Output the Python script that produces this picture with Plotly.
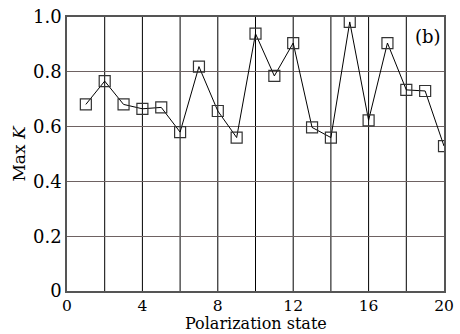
import plotly.graph_objects as go

states = list(range(1, 21))
max_k = [0.681, 0.766, 0.681, 0.665, 0.670, 0.580, 0.819, 0.657, 0.560, 0.939,
         0.785, 0.905, 0.597, 0.560, 0.982, 0.623, 0.905, 0.734, 0.730, 0.529]
x_ticks = [0, 4, 8, 12, 16, 20]
y_ticks = [0, 0.2, 0.4, 0.6, 0.8, 1.0]
y_labels = ["0", "0.2", "0.4", "0.6", "0.8", "1.0"]

font = "DejaVu Serif, Liberation Serif, serif"

fig = go.Figure()
# vertical grid lines every 2 (black)
for v in range(2, 20, 2):
    fig.add_vline(x=v, line=dict(color="black", width=1), layer="below")

fig.add_trace(go.Scatter(
    x=states, y=max_k, mode="lines+markers",
    line=dict(color="black", width=1),
    marker=dict(symbol="square-open", size=11, color="#333333", line=dict(width=1.2)),
    showlegend=False,
))

fig.update_layout(
    width=460, height=334,
    margin=dict(l=67, r=16, t=17, b=43),
    paper_bgcolor="white", plot_bgcolor="white",
    font=dict(family=font, color="black", size=18),
    xaxis=dict(range=[0, 20], tickvals=x_ticks, showgrid=False, zeroline=False,
               showline=True, linecolor="#555", linewidth=1.5, mirror=True,
               ticks="", tickfont=dict(size=15.5), automargin=False),
    yaxis=dict(range=[0, 1.0], tickvals=y_ticks, ticktext=y_labels,
               showgrid=True, gridcolor="#6e6262", gridwidth=1, zeroline=False,
               showline=True, linecolor="#555", linewidth=1.5, mirror=True,
               ticks="", tickfont=dict(size=18), automargin=False,
               title=dict(text="Max <i>K</i>", font=dict(size=17), standoff=3)),
    annotations=[
        dict(x=0.997, y=0.975, xref="paper", yref="paper", text="(b)",
             showarrow=False, xanchor="right", yanchor="top",
             font=dict(size=18, family=font)),
        dict(x=0.5, y=0, xref="paper", yref="paper", text="Polarization state",
             showarrow=False, xanchor="center", yanchor="bottom", yshift=-43,
             borderpad=0, font=dict(size=16, family=font)),
    ],
)

fig.write_html("out.html")
